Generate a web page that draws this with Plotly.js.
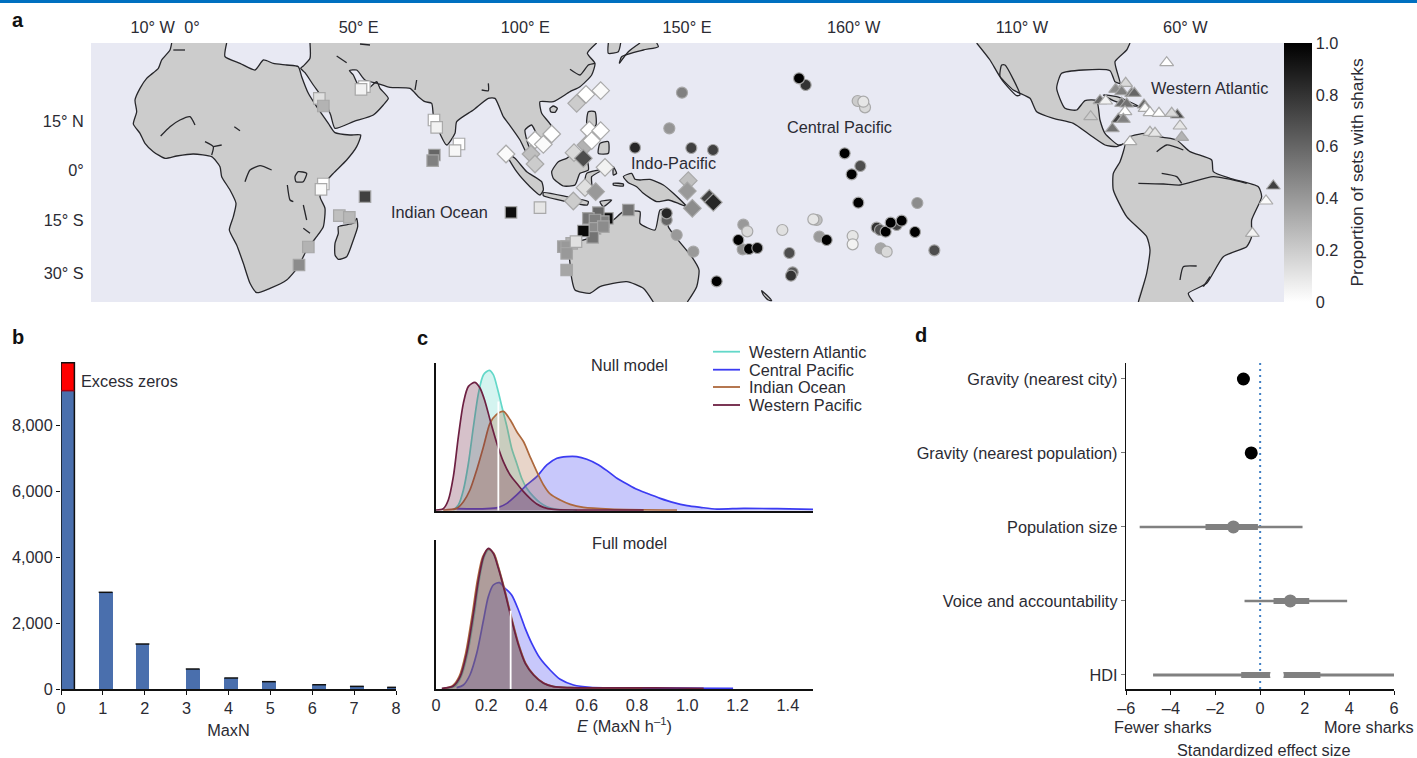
<!DOCTYPE html>
<html><head><meta charset="utf-8">
<script src="https://cdn.plot.ly/plotly-3.0.1.min.js"></script>
<style>html,body{margin:0;padding:0;background:#fff}#c{width:1417px;height:758px}</style>
</head><body><div id="c"></div>
<script>
// ---------- Panel a: land outlines, [lon, mercator-lat] ----------
const africa=[[-6.1,38.1],[-6.6,36],[-9.1,33],[-10.1,30.5],[-13.6,27.5],[-15.6,24.5],[-17.1,21],[-16.6,17.5],[-17.6,13.8],[-15.6,11],[-14.1,8],[-11.6,5.5],[-8.1,3.5],[-4.6,4.2],[0.4,4.8],[5.9,4],[8.4,1],[8.9,-2],[11.4,-6],[13.2,-10],[12.4,-14],[11.2,-18],[13.4,-22.5],[15.4,-28],[17.4,-34],[19.4,-36.8],[23.4,-35.5],[28.4,-33],[31.9,-29],[34.4,-24],[37.4,-20],[39.4,-17],[39.9,-11.5],[38.4,-8],[39.4,-4.5],[42.4,-1],[46.4,3],[49.4,7],[50.6,10.5],[47.4,10.5],[42.9,11.2],[40.9,14],[37.4,19],[34.9,23],[32.9,28],[31.9,31],[28.4,31.5],[24.4,32],[21.4,33],[18.9,30],[14.4,32],[9.9,34],[10.4,38.1]];
const eurasia=[[35.4,38.1],[35.4,33.5],[33.4,31.2],[32.6,30.5],[33.9,29.2],[36.4,25.5],[39.6,21],[41.6,16.5],[42.9,12.5],[48.4,14.5],[54.4,16.5],[57.4,19.5],[58.9,21.5],[56.4,24.5],[55.4,26.5],[52.9,24.5],[49.9,25.5],[48.4,28.5],[47.2,29.8],[49.4,30],[51.9,27],[55.6,26],[59.4,24.8],[65.4,24.5],[67.9,22],[69.9,20.5],[71.9,20],[72.4,16.5],[73.9,12],[76.4,7.5],[78.9,11],[79.4,14.5],[84.4,18],[88.9,21.5],[90.9,21.5],[93.4,16],[94.9,14],[98.4,9],[100.4,5],[104.2,1.2],[102.9,3.5],[100.9,7.5],[99.9,12],[101.9,13.5],[103.9,10],[106.4,9.5],[107.9,13],[104.9,17],[104.4,20.5],[108.4,20.5],[113.4,23.5],[116.4,25],[119.9,28.5],[120.9,32],[118.6,35],[121.4,38.1]];
const americas=[[235.4,38.1],[239.4,33],[242.4,28],[246.4,24],[251.4,21.5],[253.4,17.5],[258.4,15.5],[264.4,14],[269.4,10.5],[273.9,7.5],[277.4,7],[279.9,8],[278.4,2.5],[276.4,-1],[276.4,-6],[280.4,-14],[286.4,-20],[287.4,-24],[286.4,-31],[283.9,-39.6],[300.4,-39.6],[298.9,-37],[304.4,-34],[309.4,-26],[316.4,-23],[317.9,-20],[317.9,-15],[320.9,-8],[319.9,-5],[311.4,-2.5],[306.4,-0.5],[305.9,3],[299.4,5.5],[295.4,9],[291.4,9.8],[285.9,11],[281.4,10],[279.9,8],[277.9,7.5],[273.9,11],[272.4,15],[271.4,20.8],[267.9,20.8],[265.4,18],[261.9,18.5],[259.4,24.5],[260.9,29],[267.4,30],[275.4,29.8],[276.9,26.5],[278.4,26],[276.9,32.5],[280.4,36],[281.4,38.1]];
const australia=[[112.9,-23.5],[113.9,-22],[118.9,-20.5],[122.4,-17],[126.4,-15],[129.4,-12.5],[134.4,-12.5],[134.4,-16],[138.9,-18],[140.4,-12],[142.4,-11.8],[142.9,-17],[145.4,-20.5],[149.9,-26],[152.1,-30],[151.4,-35],[148.6,-39.6],[138.4,-39.6],[135.4,-35.5],[130.4,-33.5],[122.4,-35],[119.4,-37],[114.9,-36],[113.9,-32.5],[113.4,-28]];
const madagascar=[[43.9,-17],[48.4,-16],[49.4,-14.5],[49.7,-17],[48.4,-21],[46.4,-26],[43.9,-26.8],[42.9,-25.5],[42.9,-22],[43.9,-19]];
const sumatra=[[94.2,5],[96.9,3.5],[100.4,-0.5],[104.9,-3.5],[105.4,-6],[104.4,-7.5],[101.4,-5],[97.4,-0.5]];
const java=[[105.4,-6.8],[112.4,-8],[118.9,-9.5],[118.6,-10.5],[112.4,-9.5],[105.4,-7.7]];
const borneo=[[107.9,-0.5],[109.9,2.5],[112.4,3.5],[115.9,6],[118.4,3.5],[118.9,0],[116.4,-1],[114.9,-4.5],[111.4,-4.8],[108.4,-2.5]];
const luzon=[[118.9,17.5],[120.9,17.5],[121.2,13.5],[119.4,12],[118.4,14]];
const mindanao=[[122.4,8],[124.9,8.5],[124.9,5],[121.9,5]];
const sulawesi=[[118.4,-1],[123.4,0.2],[119.9,-2],[119.9,-5],[117.9,-4]];
const halmahera=[[126.4,1],[127.4,-1],[126.4,-1.5]];
const timor=[[122.4,-9.5],[125.9,-9],[123.4,-11]];
const seram=[[126.4,-4],[129.4,-4.2],[129.4,-4.8],[126.4,-4.5]];
const newGuinea=[[129.4,-2],[131.9,-1],[132.9,-2.8],[134.4,-3],[137.4,-2.8],[141.4,-4.5],[144.4,-7],[148.4,-11],[145.9,-10],[142.9,-9],[139.4,-9.5],[135.4,-7],[133.4,-5],[130.9,-3.8]];
const hainan=[[107.4,18.5],[108.4,19.2],[109.6,18.5],[108.9,17.3],[107.6,17.5]];
const korea=[[124.9,38.1],[124.9,35],[127.9,35.5],[128.6,38.1]];
const japan=[[128.2,32],[128.9,34],[135.4,36],[139.9,37],[139.4,38.1],[134.4,38.1],[130.9,35.5]];
const northIsland=[[170.9,-36.2],[172.4,-37.5],[173.9,-39.2],[172.9,-39],[171.4,-37.5]];
const cuba=[[273.4,22.5],[277.4,22],[283.9,19.2],[280.4,19.5],[276.4,20.8]];
const landmasses=[africa,eurasia,americas,australia,madagascar,sumatra,java,borneo,luzon,mindanao,sulawesi,halmahera,timor,seram,newGuinea,hainan,korea,japan,northIsland,cuba];
// rivers, lakes and inner coasts
const inlandLines=[
[[-9.4,10.2],[-6.6,13],[-3.6,15],[-0.6,16],[0.9,13.5]],
[[3.9,8.5],[6.4,7],[5.9,4.5]],[[6.4,7],[8.9,7.5]],
[[15.9,-3.5],[17.4,0],[20.4,1.3],[23.9,0]],
[[30.9,-2],[31.9,-0.5],[34.4,-1],[33.4,-3.5],[31.2,-3.5],[30.9,-2]],
[[28.6,-4.5],[29.4,-9],[30.4,-9.5]],
[[33.4,-10.5],[34.4,-15]],
[[12.7,13],[14.4,11.8]],
[[33.4,-17.5],[35.4,-19]],
[[43.4,34.2],[46.4,32.2]],
[[50.4,37.8],[53.4,37.5]],
[[67.4,27],[66.9,24]],
[[86.9,24],[88.9,23.8],[88.9,26]],
[[-5.6,36],[-2.1,36]],
[[242.9,31.5],[243.9,31.5],[248.4,22.5],[247.4,22.3],[242.4,28],[242.9,31.5]],
[[283.9,-4],[291.4,-4.2],[296.4,-4.5],[306.4,-2],[316.4,-4]],
[[290.9,-1],[295.4,-2],[296.9,-4]],
[[289.4,5.5],[292.4,7.5],[297.4,6]],
[[296.4,-33],[297.4,-29],[301.4,-28.8]],
[[305.4,-32],[303.4,-35]],
[[113.4,30.2],[116.4,28.5],[118.9,31.5],[120.9,32]]
];
// ---------- Panel a: sites [lon, mercator-lat, proportion] ----------
const indianSites=[[51.7,25,0],[50.7,24.2,.05],[38.2,21.5,.12],[39.4,19.2,.3],[72.6,15,0],[73.4,12.8,.05],[80.1,7.8,0],[78.9,5.8,.03],[72.7,4.5,.6],[72.2,2.8,.5],[39.4,-4.2,0],[38.7,-5.8,.02],[51.9,-8,.75],[95.7,-12.7,.95],[104.4,-11.3,.1],[44.2,-13.7,.25],[47.2,-14.2,.28],[34.9,-23.1,.3],[32.1,-28.5,.45],[124.6,-14.5,.95],[130.9,-12,.55],[121.9,-12.8,.6],[118.9,-14.5,.55],[123.4,-15.5,.5],[120.9,-15,.5],[120.9,-17.5,.45],[123.4,-17,.45],[120.2,-20.2,.55],[117.4,-18.3,.97],[113.9,-22,.3],[111.4,-23,.4],[112.4,-23,.4],[112.4,-25,.4],[115.2,-21.5,.12],[112.4,-30,.35]];
const indoPacificSites=[[122.6,23.8,.02],[118.2,22.7,0],[115.4,20,.2],[107.9,10.8,0],[102.9,9,0],[105.4,7.7,.02],[94.2,4.8,.02],[101.7,4.8,.25],[102.9,1.8,.2],[118.2,7.5,.3],[119.2,12,0],[122.6,11.8,0],[119.9,8.8,0],[114.6,5.2,.15],[117.4,3.5,.7],[123.9,.8,.05],[117.9,-5.3,.12],[121.1,-6.5,.4],[114.4,-9.3,.2],[148.9,-3.2,.25],[148.6,-6.3,.4],[150.1,-11.5,.45],[155.2,-8.5,.75],[156.4,-9.7,.85]];
const centralPacificSites=[[184.1,25.5,.8],[182.1,27.5,1],[147,23.2,.5],[199.7,20.7,.2],[201.9,18.8,.15],[201.4,20.5,.1],[143.2,12.5,.42],[132.9,6.7,.85],[149.8,6.6,.75],[156.3,6,.75],[195.8,5,1],[200.5,1.2,.7],[197.9,-1.3,1],[199.9,-9.8,1],[217.6,-9.9,.45],[142.4,-15,.6],[142.4,-13,.85],[145.4,-19.5,.4],[150.4,-24.5,.4],[157.4,-33.4,1],[165.4,-16.4,.4],[166.6,-18.4,.15],[165.2,-23.8,.45],[163.9,-21,1],[167.1,-23.7,1],[169.6,-23.4,.95],[177.1,-18,.12],[179.2,-24.9,.7],[180.2,-30.7,.65],[179.7,-31.7,.8],[187.4,-15,.25],[186.4,-14.8,.1],[188.2,-20,.4],[190.4,-21,1],[198.2,-19.8,.1],[198.2,-22.3,.05],[205.4,-17.3,.8],[206.4,-18,.7],[211.4,-16.5,.75],[208.1,-18.5,1],[209.6,-15.8,1],[212.9,-15.2,1],[216.9,-18.6,1],[206.6,-23.5,.35],[208.4,-24.5,.15],[222.7,-24.1,.7]];
const atlanticSites=[[292.4,32.2,0],[280.1,26,.15],[277.1,24.2,.45],[278.9,23.5,.5],[281.9,23,.55],[282.7,23,.6],[272.4,20.8,.6],[274.1,20.7,.05],[278.9,20,.6],[280.4,19.8,.55],[285.6,19.5,.6],[285.9,18.5,.02],[279.9,17.5,0],[287.4,17.2,0],[290.1,17,0],[295.6,16.5,.7],[293.9,17,.15],[269.6,16,.2],[277.9,15.2,.75],[279.4,15.2,.5],[296.4,13.2,.1],[276.1,12.4,.55],[287.4,11.3,.1],[288.9,11,.1],[296.9,9.8,.3],[281.4,8.5,.02],[324.4,-4.8,.75],[322.2,-9.3,.02],[318.1,-19,.05]];
const regionLabels=[["Indian Ocean",74.1,-12.6],["Indo-Pacific",144.3,2.1],["Central Pacific",194.1,12.9],["Western Atlantic",305.1,24.6]];
const lonTickVals=[-11.8,0,50,100,148.5,198.5,249,298];
const lonTickText=["10° W","0°","50° E","100° E","150° E","160° W","110° W","60° W"];
const latTickVals=[14.7,0,-15,-30.9];
const latTickText=["15° N","0°","15° S","30° S"];
const barTickVals=[0,.2,.4,.6,.8,1];
const barTickText=["0","0.2","0.4","0.6","0.8","1.0"];
// ---------- Panel b ----------
const maxNLeft=[0,.9,1.78,2.98,3.9,4.8,6,6.9,7.79];
const maxNCount=[9060,2936,1366,607,334,223,130,80,50];
const excessZeros=850;
const barWidth=.33;
// ---------- Panel c ----------
const nullWP_x=[0,.029,.049,.069,.089,.109,.129,.155,.175,.195,.215,.242,.268,.295,.321,.348,.374,.401,.428,.467,.56,.826];
const nullWP_y=[.02,.06,.32,1.02,2.22,3.22,3.72,3.84,3.67,3.27,2.72,2.02,1.47,1.07,.82,.57,.37,.2,.1,.04,.02,.02];
const nullWA_x=[.069,.089,.109,.129,.149,.169,.189,.212,.228,.244,.262,.282,.301,.321,.341,.361,.388,.414,.441,.481,.56];
const nullWA_y=[.02,.17,.62,1.42,2.52,3.52,4.07,4.2,4.07,3.67,3.12,2.52,1.87,1.42,.97,.67,.42,.24,.12,.04,.02];
const nullIO_x=[.029,.082,.109,.135,.162,.189,.215,.239,.268,.295,.321,.348,.374,.401,.428,.454,.494,.534,.587,.693,.959];
const nullIO_y=[.02,.07,.27,.62,1.22,1.92,2.62,2.87,2.97,2.72,2.37,2.07,1.62,1.17,.77,.5,.32,.19,.1,.05,.02];
const nullCP_x=[.082,.202,.248,.282,.321,.361,.401,.441,.481,.521,.56,.6,.64,.68,.72,.76,.799,.839,.892,.946,.999,1.052,1.118,1.224,1.357,1.5];
const nullCP_y=[.06,.06,.1,.22,.47,.77,1.02,1.37,1.57,1.62,1.62,1.54,1.4,1.2,.97,.8,.64,.52,.37,.24,.15,.1,.05,.07,.06,.04];
const fullWP_x=[.023,.069,.096,.122,.149,.169,.189,.208,.228,.248,.275,.301,.328,.355,.388,.428,.467,.534,.959,1.065];
const fullWP_y=[.02,.09,.37,1.07,2.27,3.27,3.97,4.22,4.07,3.62,2.87,2.07,1.32,.77,.42,.17,.07,.04,.03,.02];
const fullWA_x=[.04,.075,.1,.126,.153,.172,.191,.21,.23,.25,.277,.303,.33,.357,.39,.43,.47,.534,.7];
const fullWA_y=[.02,.08,.37,1.07,2.27,3.27,3.95,4.18,4.05,3.6,2.85,2.05,1.3,.75,.4,.16,.07,.04,.02];
const fullIO_x=[.03,.065,.092,.118,.145,.165,.186,.208,.23,.25,.277,.303,.33,.357,.39,.43,.47,.534,.82];
const fullIO_y=[.02,.09,.37,1.07,2.27,3.27,3.97,4.2,4.07,3.62,2.87,2.07,1.32,.77,.42,.17,.07,.04,.02];
const fullCP_x=[.082,.109,.135,.162,.189,.208,.228,.252,.275,.301,.328,.355,.381,.414,.454,.494,.547,.614,.826,1.182];
const fullCP_y=[.04,.12,.42,1.07,2.07,2.77,3.12,3.19,3.02,2.82,2.37,1.82,1.37,.92,.57,.29,.12,.05,.03,.02];
const regionNames=["Western Atlantic","Central Pacific","Indian Ocean","Western Pacific"];
const regionColours=["#63d8c9","#3b3bf2","#ad683d","#6d2042"];
const regionFills=["rgba(99,216,201,.28)","rgba(59,59,242,.28)","rgba(173,104,61,.28)","rgba(109,32,66,.28)"];
const nullMedian=[.248,3.27], fullMedian=[.297,2.35];
// ---------- Panel d ----------
const effectNames=["HDI","Voice and accountability","Population size","Gravity (nearest population)","Gravity (nearest city)"];
const effectMean=[.75,1.35,-1.2,-.4,-.75];
const effectLo95=[-4.8,-.7,-5.4,null,null];
const effectHi95=[6,3.9,1.9,null,null];
const effectLo50=[-.85,.6,-2.45,null,null];
const effectHi50=[2.7,2.2,-.1,null,null];
const effectColour=["#ffffff","#808080","#808080","#000000","#000000"];
const effectTickVals=[-6,-4,-2,0,2,4,6];
const effectTickText=["–6","–4","–2","0","2","4","6"];

// ---------- helpers ----------
const W=1417,H=758,FONT="Liberation Sans, Arial, sans-serif",INK="#2b2b33",FS=16.3;
const fx=p=>p/W, fy=p=>1-p/H;
const dx=(a,b)=>[fx(a),fx(b)], dy=(top,bot)=>[fy(bot),fy(top)];
const traces=[];
const coastShape={shape:'spline',smoothing:.55};
// land fill
let lx=[],ly=[];
landmasses.forEach(m=>{m.forEach(p=>{lx.push(p[0]);ly.push(p[1])});lx.push(null);ly.push(null)});
traces.push({type:'scatter',mode:'lines',x:lx,y:ly,fill:'toself',fillcolor:'#cccccc',line:Object.assign({width:0},coastShape),hoverinfo:'skip',xaxis:'x',yaxis:'y',showlegend:false});
// coast, left open along the frame
let cx=[],cy=[];
const edge=p=>p[1]>=38||p[1]<=-39.5;
landmasses.forEach(m=>{for(let i=0;i<=m.length;i++){const p=m[i%m.length],q=m[(i+m.length-1)%m.length];
  if(i>0&&edge(p)&&edge(q)){cx.push(null);cy.push(null)}
  cx.push(p[0]);cy.push(p[1])}
  cx.push(null);cy.push(null)});
inlandLines.forEach(l=>{l.forEach(p=>{cx.push(p[0]);cy.push(p[1])});cx.push(null);cy.push(null)});
traces.push({type:'scatter',mode:'lines',x:cx,y:cy,line:Object.assign({color:'#26262a',width:1.3},coastShape),hoverinfo:'skip',xaxis:'x',yaxis:'y',showlegend:false,connectgaps:false});
const sites=[[indianSites,'square',11.5],[indoPacificSites,'diamond',13.5],[centralPacificSites,'circle',11],[atlanticSites,'triangle-up',12]];
sites.forEach(s=>traces.push({type:'scatter',mode:'markers',x:s[0].map(d=>d[0]),y:s[0].map(d=>d[1]),
  marker:{symbol:s[1],size:s[2],color:s[0].map(d=>d[2]),coloraxis:'coloraxis',line:{color:'rgba(165,165,165,.95)',width:1.2}},xaxis:'x',yaxis:'y',showlegend:false}));
// panel b
traces.push({type:'bar',x:maxNLeft,y:maxNCount,width:barWidth,offset:0,marker:{color:'#4a6fad',line:{width:0}},xaxis:'x2',yaxis:'y2',showlegend:false});
traces.push({type:'bar',x:[maxNLeft[0]],y:[excessZeros],base:[maxNCount[0]],width:barWidth-.01,offset:0,marker:{color:'#ff0000',line:{width:0}},xaxis:'x2',yaxis:'y2',showlegend:false});
let tx=[],ty=[];
maxNLeft.forEach((l,i)=>{if(i>0){tx.push(l,l+barWidth,null);ty.push(maxNCount[i],maxNCount[i],null)}});
traces.push({type:'scatter',mode:'lines',x:tx,y:ty,line:{color:'#111',width:1.5},xaxis:'x2',yaxis:'y2',showlegend:false,hoverinfo:'skip'});
const top0=maxNCount[0]+excessZeros, right0=barWidth-.01;
traces.push({type:'scatter',mode:'lines',x:[0,0,right0,right0],y:[0,top0,top0,0],line:{color:'#111',width:1.5},cliponaxis:false,xaxis:'x2',yaxis:'y2',showlegend:false,hoverinfo:'skip'});
traces.push({type:'scatter',mode:'lines',x:[0,right0],y:[maxNCount[0],maxNCount[0]],line:{color:'#a5000f',width:1.5},xaxis:'x2',yaxis:'y2',showlegend:false,hoverinfo:'skip'});
// panel c
const dens=(x,y,i,xa,ya)=>({type:'scatter',mode:'lines',x,y,fill:'tozeroy',fillcolor:regionFills[i],line:{color:regionColours[i],width:1.7,shape:'spline',smoothing:.8},xaxis:xa,yaxis:ya,showlegend:false,name:regionNames[i]});
traces.push(dens(nullWA_x,nullWA_y,0,'x3','y3'),dens(nullCP_x,nullCP_y,1,'x3','y3'),dens(nullIO_x,nullIO_y,2,'x3','y3'),dens(nullWP_x,nullWP_y,3,'x3','y3'));
traces.push({type:'scatter',mode:'lines',x:[nullMedian[0],nullMedian[0]],y:[0,nullMedian[1]],line:{color:'#fff',width:1.8},xaxis:'x3',yaxis:'y3',showlegend:false});
traces.push(dens(fullCP_x,fullCP_y,1,'x4','y4'),dens(fullWA_x,fullWA_y,0,'x4','y4'),dens(fullIO_x,fullIO_y,2,'x4','y4'),dens(fullWP_x,fullWP_y,3,'x4','y4'));
traces.push({type:'scatter',mode:'lines',x:[fullMedian[0],fullMedian[0]],y:[0,fullMedian[1]],line:{color:'#fff',width:1.8},xaxis:'x4',yaxis:'y4',showlegend:false});
// panel d
traces.push({type:'scatter',mode:'lines',x:[0,0],y:[-.19,4.216],line:{color:'#3f7fc4',width:2,dash:'2px,4px'},xaxis:'x5',yaxis:'y5',showlegend:false,hoverinfo:'skip'});
effectNames.forEach((n,i)=>{
  if(effectLo95[i]!==null){
    traces.push({type:'scatter',mode:'lines',x:[effectLo95[i],effectHi95[i]],y:[i,i],line:{color:'#808080',width:i===0?3:2.5},xaxis:'x5',yaxis:'y5',showlegend:false,hoverinfo:'skip'});
    traces.push({type:'scatter',mode:'lines',x:[effectLo50[i],effectHi50[i]],y:[i,i],line:{color:'#808080',width:6},xaxis:'x5',yaxis:'y5',showlegend:false,hoverinfo:'skip'});
  }
  traces.push({type:'scatter',mode:'markers',x:[effectMean[i]],y:[i],marker:{color:effectColour[i],size:i===0?14:13,line:{width:0}},xaxis:'x5',yaxis:'y5',showlegend:false,name:n});
});
// axes
const tf={family:FONT,size:FS,color:INK};
const hidden={showgrid:false,zeroline:false,showticklabels:false,ticks:'',showline:false};
const ann=(text,x,y,o)=>Object.assign({text,x:fx(x),y:fy(y),xref:'paper',yref:'paper',showarrow:false,font:tf,xanchor:'center',yanchor:'middle'},o||{});
const annotations=[
 ann('<b>a</b>',18,20,{font:{family:FONT,size:20,color:'#111'}}),
 ann('<b>b</b>',18,337,{font:{family:FONT,size:20,color:'#111'}}),
 ann('<b>c</b>',422,338,{font:{family:FONT,size:20,color:'#111'}}),
 ann('<b>d</b>',921,335,{font:{family:FONT,size:20,color:'#111'}}),
 ann('Excess zeros',129,381),
 ann('Null model',629,365),
 ann('Full model',629,543),
 ann('Fewer sharks',1163,727),
 ann('More sharks',1369,727),
 ann('Standardized effect size',1263,750),
 ann('Proportion of sets with sharks',1357,172.5,{textangle:-90,font:{family:FONT,size:17.4,color:INK}})
];
regionLabels.forEach(r=>annotations.push({text:r[0],x:r[1],y:r[2],xref:'x',yref:'y',showarrow:false,font:tf,xanchor:'center',yanchor:'middle'}));
const legendRows=[351.7,369.7,387,405];
const shapes=[
 {type:'rect',xref:'paper',yref:'paper',x0:0,x1:1,y0:fy(3),y1:1,fillcolor:'#0070c0',line:{width:0},layer:'below'},
 {type:'rect',xref:'paper',yref:'paper',x0:fx(91),x1:fx(1284),y0:fy(302),y1:fy(43),fillcolor:'#e8e9f3',line:{width:0},layer:'below'}
];
regionNames.forEach((n,i)=>{
 annotations.push(ann(n,747.5,legendRows[i],{xanchor:'left'}));
 shapes.push({type:'line',xref:'paper',yref:'paper',x0:fx(713),x1:fx(740),y0:fy(legendRows[i]),y1:fy(legendRows[i]),line:{color:regionColours[i],width:1.8}});
});
const clear='rgba(0,0,0,0)';
const layout={
 width:W,height:H,autosize:false,margin:{l:0,r:0,t:0,b:0},paper_bgcolor:'#fff',plot_bgcolor:clear,
 font:tf,showlegend:false,hovermode:false,bargap:0,shapes,annotations,
 coloraxis:{cmin:0,cmax:1,colorscale:[[0,'#ffffff'],[1,'#000000']],
  colorbar:{x:fx(1284),xanchor:'left',xpad:0,ypad:0,y:fy(43),yanchor:'top',len:259/H,lenmode:'fraction',thickness:28,thicknessmode:'pixels',outlinewidth:0,tickvals:barTickVals,ticktext:barTickText,ticks:'',tickfont:tf}},
 xaxis:{domain:dx(91,1284),range:[-30.3,327.6],side:'top',anchor:'y',showgrid:false,zeroline:false,ticks:'outside',ticklen:2,tickcolor:clear,showline:false,tickmode:'array',tickvals:lonTickVals,ticktext:lonTickText,tickfont:tf},
 yaxis:{domain:dy(43,302),range:[-39.6,38.1],anchor:'x',showgrid:false,zeroline:false,ticks:'outside',ticklen:3,tickcolor:clear,showline:false,tickmode:'array',tickvals:latTickVals,ticktext:latTickText,tickfont:tf},
 xaxis2:{domain:dx(61,396),range:[0,8],anchor:'y2',showgrid:false,zeroline:false,showline:true,linecolor:'#111',linewidth:1.5,ticks:'outside',ticklen:4,tickcolor:'#111',tickvals:[0,1,2,3,4,5,6,7,8],tickfont:tf,title:{text:'MaxN',font:tf,standoff:8}},
 yaxis2:{domain:dy(362,689),range:[0,9930],anchor:'x2',showgrid:false,zeroline:false,showline:false,ticks:'outside',ticklen:4,tickcolor:'#111',tickvals:[0,2000,4000,6000,8000],tickformat:',',tickfont:tf},
 xaxis3:Object.assign({},hidden,{domain:dx(436,813),range:[0,1.5],anchor:'y3',showline:true,linecolor:'#111',linewidth:2}),
 yaxis3:Object.assign({},hidden,{domain:dy(363,510.7),range:[0,4.42],anchor:'x3',showline:true,linecolor:'#111',linewidth:2}),
 xaxis4:{domain:dx(436,813),range:[0,1.5],anchor:'y4',showgrid:false,zeroline:false,showline:true,linecolor:'#111',linewidth:2,ticks:'',tickvals:[0,.2,.4,.6,.8,1,1.2,1.4],ticktext:['0','0.2','0.4','0.6','0.8','1.0','1.2','1.4'],tickfont:tf,title:{text:'<i>E</i> (MaxN h<sup>–1</sup>)',font:tf,standoff:8}},
 yaxis4:Object.assign({},hidden,{domain:dy(540,689),range:[0,4.47],anchor:'x4',showline:true,linecolor:'#111',linewidth:2}),
 xaxis5:{domain:dx(1126.3,1394),range:[-6,6],anchor:'y5',showgrid:false,zeroline:false,showline:true,linecolor:'#111',linewidth:1.5,ticks:'outside',ticklen:4,tickcolor:'#111',tickvals:effectTickVals,ticktext:effectTickText,tickfont:tf},
 yaxis5:{domain:dy(363,689),range:[-.19,4.216],anchor:'x5',showgrid:false,zeroline:false,showline:true,linecolor:'#111',linewidth:1.5,ticks:'outside',ticklen:4,tickcolor:'#777',tickvals:[0,1,2,3,4],ticktext:effectNames,tickfont:tf}
};
Plotly.newPlot('c',traces,layout,{displayModeBar:false,staticPlot:true});
</script></body></html>
